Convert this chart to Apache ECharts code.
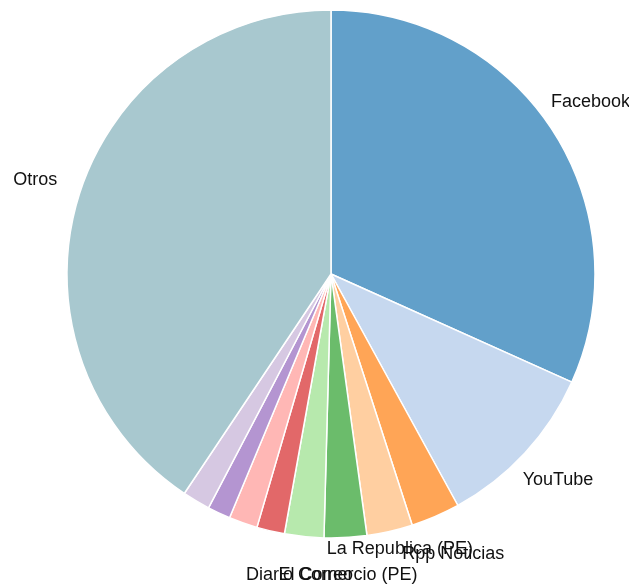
<!DOCTYPE html>
<html>
<head>
<meta charset="utf-8">
<script src="https://cdn.jsdelivr.net/npm/echarts@6/dist/echarts.min.js"></script>
<style>
html,body{margin:0;padding:0;background:#fff;}
#chart{width:629px;height:588px;}
</style>
</head>
<body>
<div id="chart"></div>
<script>
// Data (in percent)
var categories = ["Facebook", "YouTube", "Rpp Noticias", "La Republica (PE)", "El Comercio (PE)", "Diario Correo", "Fuente 7", "Fuente 8", "Fuente 9", "Fuente 10", "Otros"];
var values = [31.7, 10.3, 3.0, 2.8, 2.6, 2.4, 1.7, 1.75, 1.4, 1.7, 40.6];
var labelShown = [true, true, true, true, true, true, false, false, false, false, true];
var colors = ["#62a0ca", "#c6d8ef", "#ffa556", "#ffcfa1", "#6bbc6b", "#b7e9ad", "#e26869", "#ffb7b5", "#b495d1", "#d6c8e2", "#a8c8cf"];

var pieData = categories.map(function (c, i) {
  return { name: c, value: values[i], itemStyle: { color: colors[i] } };
});
var labelData = categories.map(function (c, i) {
  return { name: c, value: values[i], label: { show: labelShown[i] } };
});

var chart = echarts.init(document.getElementById('chart'));
chart.setOption({
  animation: false,
  series: [
    {
      type: 'pie',
      center: [331, 274],
      radius: [0, 264],
      startAngle: 90,
      clockwise: true,
      avoidLabelOverlap: false,
      label: { show: false },
      labelLine: { show: false },
      itemStyle: { borderColor: '#ffffff', borderWidth: 1.5 },
      emphasis: { disabled: true },
      data: pieData
    },
    {
      type: 'pie',
      center: [331, 274],
      radius: [289, 323],
      startAngle: 90,
      clockwise: true,
      silent: true,
      avoidLabelOverlap: false,
      itemStyle: { color: 'rgba(0,0,0,0)', borderWidth: 0 },
      label: {
        position: 'inside',
        formatter: '{b}',
        color: '#111',
        offset: [0, -4],
        fontFamily: 'Liberation Sans, Arial, sans-serif',
        fontSize: 18
      },
      labelLine: { show: false },
      labelLayout: function (p) {
        var r = p.labelRect;
        var cy = r.y + r.height / 2;
        if (categories[p.dataIndex] === 'La Republica (PE)') {
          return { y: 549, verticalAlign: 'middle', hideOverlap: false };
        }
        if (cy > 575) {
          return { y: 575, verticalAlign: 'middle', hideOverlap: false };
        }
        return { hideOverlap: false };
      },
      emphasis: { disabled: true },
      data: labelData
    }
  ]
});
</script>
</body>
</html>
